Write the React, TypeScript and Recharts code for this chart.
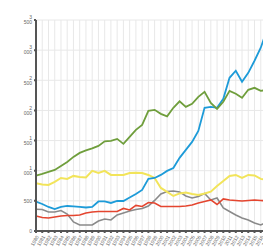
import { LineChart, Line, XAxis, YAxis, CartesianGrid } from "recharts"

const years = Array.from({ length: 38 }, (_, i) => String(1980 + i))

const green = [918, 947, 980, 1013, 1080, 1146, 1229, 1296, 1337, 1370, 1412, 1487, 1495, 1528, 1445, 1561, 1678, 1761, 1993, 2010, 1943, 1902, 2043, 2151, 2060, 2109, 2226, 2309, 2126, 2026, 2143, 2325, 2276, 2209, 2342, 2375, 2325, 2342]
const blue = [487, 448, 399, 365, 399, 415, 407, 399, 390, 399, 490, 490, 465, 498, 498, 556, 615, 681, 864, 880, 930, 997, 1046, 1213, 1345, 1478, 1661, 2043, 2060, 2043, 2193, 2541, 2658, 2475, 2624, 2824, 3040, 3339]
const yellow = [792, 772, 764, 814, 880, 864, 914, 897, 889, 997, 963, 997, 930, 930, 930, 963, 968, 963, 930, 880, 714, 648, 581, 623, 639, 615, 598, 623, 653, 747, 830, 914, 930, 880, 930, 922, 864, 847]
const red = [249, 224, 216, 233, 249, 257, 257, 266, 299, 316, 324, 324, 324, 324, 374, 349, 424, 407, 473, 465, 407, 407, 407, 407, 415, 432, 465, 490, 515, 440, 532, 515, 507, 498, 507, 515, 507, 498]
const gray = [360, 357, 316, 316, 340, 282, 150, 100, 100, 100, 166, 199, 183, 266, 299, 332, 357, 374, 415, 507, 615, 656, 664, 648, 581, 548, 573, 623, 515, 548, 382, 324, 266, 216, 183, 133, 100, 150]

const yTicks = [0, 500, 1000, 1500, 2000, 2500, 3000, 3500]

const data = years.map((year, i) => ({
  year,
  green: green[i],
  blue: blue[i],
  yellow: yellow[i],
  red: red[i],
  gray: gray[i],
}))

const fmt = (v: number) => (v >= 1000 ? `${Math.floor(v / 1000)} ${String(v % 1000).padStart(3, "0")}` : String(v))

export default function App() {
  return (
    <LineChart width={263} height={240} data={data} margin={{ top: 12, right: 4, left: 0, bottom: 0 }}>
      <CartesianGrid stroke="#e8e8e8" strokeWidth={1} />
      <XAxis
        dataKey="year"
        interval={0}
        height={17}
        angle={-60}
        textAnchor="end"
        tick={{ fontSize: 5, fill: "#666", fontFamily: "Arial" }}
        tickSize={2}
        stroke="#555"
        strokeWidth={2}
      />
      <YAxis
        width={28}
        domain={[0, 3500]}
        ticks={yTicks}
        tickFormatter={fmt}
        tick={{ fontSize: 5, fill: "#666", fontFamily: "Arial" }}
        tickSize={2}
        stroke="#555"
        strokeWidth={2}
      />
      <Line dataKey="gray" stroke="#8a8a8a" strokeWidth={1.6} dot={false} isAnimationActive={false} />
      <Line dataKey="red" stroke="#e4452f" strokeWidth={1.6} dot={false} isAnimationActive={false} />
      <Line dataKey="yellow" stroke="#f2e45a" strokeWidth={2} dot={false} isAnimationActive={false} />
      <Line dataKey="blue" stroke="#1d9bd8" strokeWidth={1.8} dot={false} isAnimationActive={false} />
      <Line dataKey="green" stroke="#6f9e3c" strokeWidth={1.8} dot={false} isAnimationActive={false} />
    </LineChart>
  )
}
